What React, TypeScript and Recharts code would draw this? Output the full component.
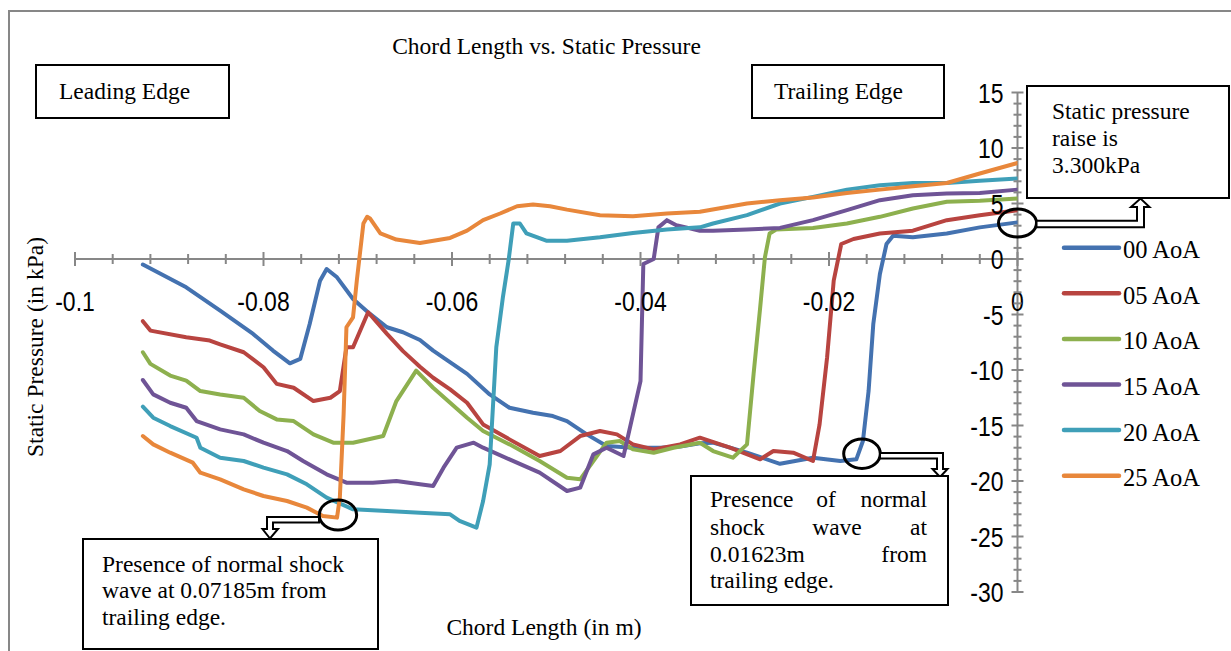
import React from "react";
import { LineChart, Line, XAxis, YAxis, ReferenceLine, ReferenceDot, Legend } from "recharts";

// chord position (m) vs static pressure (kPa)
const aoa00: [number, number][] = [
  [-0.0928, -0.5], [-0.0882, -2.55], [-0.0846, -4.65], [-0.0811, -6.75], [-0.079, -8.25], [-0.0772, -9.4],
  [-0.0761, -9.0], [-0.0751, -5.85], [-0.074, -1.95], [-0.0733, -0.9], [-0.0722, -1.65], [-0.0705, -3.6],
  [-0.0687, -4.95], [-0.0669, -6.15], [-0.0652, -6.6], [-0.0634, -7.3], [-0.062, -8.25], [-0.0584, -10.35],
  [-0.056, -12.2], [-0.0539, -13.4], [-0.0514, -13.85], [-0.0493, -14.15], [-0.0478, -14.6], [-0.0457, -15.8],
  [-0.0436, -16.85], [-0.0408, -17.0], [-0.0379, -17.0], [-0.0358, -16.9], [-0.0337, -16.6], [-0.0323, -16.55],
  [-0.0287, -17.45], [-0.0252, -18.45], [-0.0217, -17.9], [-0.0188, -18.2], [-0.0171, -18.05], [-0.0164, -16.4],
  [-0.0158, -11.9], [-0.0153, -5.85], [-0.0146, -1.35], [-0.0139, 1.35], [-0.0132, 2.1], [-0.0111, 1.95],
  [-0.0075, 2.3], [-0.004, 2.85], [0, 3.3],
];
const aoa05: [number, number][] = [
  [-0.0928, -5.6], [-0.092, -6.45], [-0.0882, -7.05], [-0.0857, -7.35], [-0.0846, -7.7], [-0.0821, -8.4],
  [-0.08, -9.75], [-0.0786, -11.25], [-0.0768, -11.6], [-0.0747, -12.8], [-0.0729, -12.5], [-0.0719, -11.9],
  [-0.0712, -7.95], [-0.0705, -7.95], [-0.0689, -4.8], [-0.0669, -6.75], [-0.0652, -8.3], [-0.0634, -9.7],
  [-0.062, -10.7], [-0.0602, -11.75], [-0.0584, -12.95], [-0.0567, -14.9], [-0.0539, -16.25], [-0.0507, -17.75],
  [-0.0485, -17.3], [-0.0464, -15.95], [-0.0443, -15.5], [-0.0425, -15.8], [-0.0408, -16.7], [-0.0386, -17.15],
  [-0.0358, -16.7], [-0.0337, -16.1], [-0.0305, -17.0], [-0.0273, -18.05], [-0.0259, -17.3], [-0.0238, -17.45],
  [-0.0217, -18.2], [-0.021, -14.9], [-0.0202, -8.85], [-0.0195, -1.95], [-0.0187, 1.35], [-0.0174, 1.8],
  [-0.0146, 2.3], [-0.0111, 2.55], [-0.0075, 3.5], [-0.004, 3.95], [0, 4.4],
];
const aoa10: [number, number][] = [
  [-0.0928, -8.4], [-0.092, -9.45], [-0.0899, -10.5], [-0.0882, -10.95], [-0.0867, -11.9], [-0.0846, -12.2],
  [-0.0821, -12.5], [-0.0804, -13.7], [-0.0786, -14.45], [-0.0768, -14.6], [-0.0747, -15.8], [-0.0726, -16.55],
  [-0.0705, -16.55], [-0.0673, -15.95], [-0.0659, -12.8], [-0.0638, -10.05], [-0.062, -11.6], [-0.0602, -12.95],
  [-0.0584, -14.3], [-0.0567, -15.5], [-0.0539, -16.7], [-0.0507, -18.2], [-0.0478, -19.7], [-0.0464, -19.85],
  [-0.045, -18.2], [-0.0436, -16.55], [-0.0422, -16.4], [-0.0408, -17.15], [-0.0386, -17.45], [-0.0365, -17.0],
  [-0.0337, -16.55], [-0.0323, -17.3], [-0.0302, -17.9], [-0.0287, -16.7], [-0.028, -10.35], [-0.0273, -4.35],
  [-0.0268, 0.15], [-0.0263, 2.3], [-0.0256, 2.65], [-0.0217, 2.8], [-0.0181, 3.2], [-0.0146, 3.8],
  [-0.0111, 4.55], [-0.0075, 5.15], [-0.004, 5.25], [0, 5.45],
];
const aoa15: [number, number][] = [
  [-0.0928, -10.9], [-0.0917, -12.2], [-0.0899, -12.95], [-0.0882, -13.4], [-0.0871, -14.6], [-0.0846, -15.35],
  [-0.0821, -15.8], [-0.08, -16.55], [-0.0775, -17.3], [-0.0758, -18.2], [-0.0733, -19.4], [-0.0712, -20.15],
  [-0.0684, -20.15], [-0.0659, -20.0], [-0.0634, -20.3], [-0.062, -20.45], [-0.0609, -18.8], [-0.0595, -17.0],
  [-0.0577, -16.55], [-0.0567, -17.0], [-0.0539, -18.05], [-0.0507, -19.25], [-0.0478, -20.9], [-0.0464, -20.6],
  [-0.045, -17.6], [-0.0436, -17.0], [-0.0418, -17.75], [-0.0408, -14.0], [-0.04, -11.0], [-0.0397, -0.45],
  [-0.0386, 0.0], [-0.0381, 2.85], [-0.0372, 3.5], [-0.0362, 3.05], [-0.0337, 2.55], [-0.0323, 2.55],
  [-0.0287, 2.65], [-0.0252, 2.8], [-0.0217, 3.5], [-0.0181, 4.4], [-0.0146, 5.3], [-0.0111, 5.75],
  [-0.0075, 5.9], [-0.004, 5.95], [0, 6.25],
];
const aoa20: [number, number][] = [
  [-0.0928, -13.3], [-0.0917, -14.3], [-0.0899, -15.05], [-0.0871, -16.1], [-0.0867, -17.0], [-0.0846, -17.9],
  [-0.0821, -18.2], [-0.08, -18.8], [-0.0775, -19.4], [-0.0754, -20.3], [-0.0733, -21.5], [-0.0705, -22.55],
  [-0.0669, -22.7], [-0.0634, -22.85], [-0.0602, -23.0], [-0.0592, -23.6], [-0.0574, -24.2], [-0.0567, -21.8],
  [-0.056, -18.5], [-0.0553, -7.95], [-0.0546, -3.45], [-0.054, -0.15], [-0.0535, 3.2], [-0.0528, 3.2],
  [-0.0521, 2.3], [-0.05, 1.65], [-0.0478, 1.65], [-0.0443, 1.95], [-0.0408, 2.35], [-0.0372, 2.65],
  [-0.0337, 2.85], [-0.0323, 3.2], [-0.0287, 3.95], [-0.0252, 5.0], [-0.0217, 5.6], [-0.0181, 6.25],
  [-0.0146, 6.65], [-0.0111, 6.85], [-0.0075, 6.85], [-0.004, 7.05], [0, 7.25],
];
const aoa25: [number, number][] = [
  [-0.0928, -15.95], [-0.0917, -16.7], [-0.0899, -17.45], [-0.0875, -18.35], [-0.0867, -19.25], [-0.0846, -19.85],
  [-0.0821, -20.75], [-0.08, -21.35], [-0.0775, -21.8], [-0.0754, -22.4], [-0.0737, -23.15], [-0.0722, -23.3],
  [-0.0719, -21.5], [-0.0715, -14.0], [-0.0712, -6.15], [-0.0705, -5.25], [-0.0701, -1.95], [-0.0694, 3.2],
  [-0.069, 3.8], [-0.0687, 3.65], [-0.0676, 2.3], [-0.0659, 1.75], [-0.0634, 1.45], [-0.0602, 1.9],
  [-0.0584, 2.55], [-0.0567, 3.5], [-0.0549, 4.1], [-0.0531, 4.75], [-0.0514, 4.9], [-0.0496, 4.75],
  [-0.0478, 4.45], [-0.0443, 3.95], [-0.0408, 3.85], [-0.0372, 4.1], [-0.0337, 4.25], [-0.0287, 5.0],
  [-0.0252, 5.3], [-0.0217, 5.55], [-0.0181, 5.95], [-0.0146, 6.25], [-0.0111, 6.55], [-0.0075, 6.85],
  [-0.004, 7.7], [0, 8.65],
];

const seriesNames = ["00 AoA", "05 AoA", "10 AoA", "15 AoA", "20 AoA", "25 AoA"];
const seriesColors = ["#4472b0", "#b84440", "#8db04e", "#6f5496", "#3f9fb8", "#e8873b"];
const seriesData = [aoa00, aoa05, aoa10, aoa15, aoa20, aoa25];

const xMajor = [-0.1, -0.08, -0.06, -0.04, -0.02, 0];
const xMajorLabels = ["-0.1", "-0.08", "-0.06", "-0.04", "-0.02", "0"];
const xMinor = [
  -0.096, -0.092, -0.088, -0.084, -0.076, -0.072, -0.068, -0.064, -0.056, -0.052, -0.048, -0.044,
  -0.036, -0.032, -0.028, -0.024, -0.016, -0.012, -0.008, -0.004,
];
const yMajor = [15, 10, 5, 0, -5, -10, -15, -20, -25, -30];
const yMinor = [
  14, 13, 12, 11, 9, 8, 7, 6, 4, 3, 2, 1, -1, -2, -3, -4, -6, -7, -8, -9, -11, -12, -13, -14,
  -16, -17, -18, -19, -21, -22, -23, -24, -26, -27, -28, -29,
];

// annotation ellipses, centred on the marked data points
const marks = [
  { x: -0.0721, y: -23.06, rx: 18.7, ry: 15 },
  { x: -0.0165, y: -17.54, rx: 18.3, ry: 14.7 },
  { x: 0, y: 3.24, rx: 19, ry: 14 },
];

const W = 1231;
const H = 651;
const AXIS = "#878787";
const SERIF = "'Liberation Serif', 'Times New Roman', serif";
const SANS = "'Liberation Sans', Arial, sans-serif";

const xTick = (major: boolean, label?: string) => (p: any) => (
  <g>
    <line x1={p.cx} x2={p.cx} y1={p.cy - (major ? 7 : 5)} y2={p.cy + (major ? 7 : 5)} stroke={AXIS} strokeWidth={2} />
    {label !== undefined && (
      <text transform={`translate(${p.cx},${p.cy + 52}) scale(0.82,1)`} textAnchor="middle" fontFamily={SANS} fontSize={28} fill="#000">
        {label}
      </text>
    )}
  </g>
);

const yTick = (major: boolean, label?: string) => (p: any) => (
  <g>
    <line x1={p.cx - (major ? 6 : 4)} x2={p.cx + (major ? 6 : 4)} y1={p.cy} y2={p.cy} stroke={AXIS} strokeWidth={2} />
    {label !== undefined && (
      <text transform={`translate(${p.cx - 14},${p.cy + 10}) scale(0.82,1)`} textAnchor="end" fontFamily={SANS} fontSize={28} fill="#000">
        {label}
      </text>
    )}
  </g>
);

const ring = (rx: number, ry: number) => (p: any) => (
  <ellipse cx={p.cx} cy={p.cy} rx={rx} ry={ry} fill="none" stroke="#000" strokeWidth={3} />
);

const renderLegend = (props: any) => (
  <svg width={171} height={280}>
    {(props.payload || []).map((e: any, i: number) => {
      const cy = 27.7 + i * 45.6;
      return (
        <g key={e.value}>
          <line x1={4} x2={59} y1={cy} y2={cy} stroke={e.color} strokeWidth={4.5} strokeLinecap="round" />
          <text x={63} y={cy + 10.5} fontFamily={SERIF} fontSize={24.5} fill="#000">
            {e.value}
          </text>
        </g>
      );
    })}
  </svg>
);

export default function App() {
  return (
    <div style={{ position: "absolute", left: 0, top: 0, width: W, height: H, overflow: "hidden", background: "#fff" }}>
      <div style={{ position: "absolute", left: 8, top: 10, width: W + 50, height: H + 50, borderTop: `2px solid ${AXIS}`, borderLeft: `2px solid ${AXIS}` }} />
      <div style={{ position: "absolute", left: 0, top: 0 }}>
        <LineChart width={W} height={H} margin={{ top: 92.5, right: 213.5, bottom: 59, left: 75 }}>
          <XAxis dataKey="x" type="number" domain={[-0.1, 0]} hide allowDataOverflow />
          <YAxis type="number" domain={[-30, 15]} hide allowDataOverflow />
          <ReferenceLine y={0} stroke={AXIS} strokeWidth={2} />
          <ReferenceLine x={0} stroke={AXIS} strokeWidth={2} />
          {xMinor.map((v) => (
            <ReferenceDot key={`xm${v}`} x={v} y={0} r={0} shape={xTick(false)} />
          ))}
          {xMajor.map((v, i) => (
            <ReferenceDot key={`xM${v}`} x={v} y={0} r={0} shape={xTick(true, xMajorLabels[i])} />
          ))}
          {yMinor.map((v) => (
            <ReferenceDot key={`ym${v}`} x={0} y={v} r={0} shape={yTick(false)} />
          ))}
          {yMajor.map((v) => (
            <ReferenceDot key={`yM${v}`} x={0} y={v} r={0} shape={yTick(true, String(v))} />
          ))}
          {seriesData.map((d, i) => (
            <Line
              key={seriesNames[i]}
              data={d.map(([x, p]) => ({ x, p }))}
              dataKey="p"
              name={seriesNames[i]}
              type="linear"
              stroke={seriesColors[i]}
              strokeWidth={4}
              strokeLinejoin="round"
              strokeLinecap="round"
              dot={false}
              activeDot={false}
              isAnimationActive={false}
            />
          ))}
          {marks.map((m, i) => (
            <ReferenceDot key={`mk${i}`} x={m.x} y={m.y} r={0} shape={ring(m.rx, m.ry)} />
          ))}
          <Legend
            layout="vertical"
            align="center"
            verticalAlign="middle"
            content={renderLegend}
            wrapperStyle={{ left: 1060, top: 220, width: 171, height: 280 }}
          />
        </LineChart>
      </div>
      <svg width={W} height={H} style={{ position: "absolute", left: 0, top: 0, pointerEvents: "none" }}>
        <g fontFamily={SERIF} fontSize={23.5} fill="#000">
          <text x={546.5} y={54} textAnchor="middle">Chord Length vs. Static Pressure</text>
          <text x={544} y={635} textAnchor="middle">Chord Length (in m)</text>
          <text transform="translate(42.5,347) rotate(-90)" textAnchor="middle">Static Pressure (in kPa)</text>
        </g>
        <g fill="#fff" stroke="#000" strokeWidth={2}>
          <polygon points="319,517 267,517 267,529 262.5,529 270,538.5 278,529 273,529 273,522.5 319,522.5" />
          <polygon points="880,453 943,453 943,469 947.5,469 940,477 932.5,469 937,469 937,458.5 880,458.5" />
          <polygon points="1036.5,220.7 1137,220.7 1137,207 1131,207 1140.5,198.5 1149.5,207 1144,207 1144,227.3 1036.5,227.3" />
        </g>
        <g fill="#fff" stroke="#000" strokeWidth={2}>
          <rect x={36} y={65} width={193} height={53} />
          <rect x={752} y={65} width={192} height={53} />
          <rect x={1027} y={86} width={202} height={112} />
          <rect x={83} y={539} width={295} height={110} />
          <rect x={691} y={476} width={257} height={129} />
        </g>
        <g fontFamily={SERIF} fontSize={23.5} fill="#000">
          <text x={59} y={99}>Leading Edge</text>
          <text x={774} y={99}>Trailing Edge</text>
          <text x={1052} y={118.5}>Static pressure</text>
          <text x={1052} y={146}>raise is</text>
          <text x={1052} y={173}>3.300kPa</text>
          <text x={102} y={571.7}>Presence of normal shock</text>
          <text x={102} y={598.3}>wave at 0.07185m from</text>
          <text x={102} y={625}>trailing edge.</text>
          <text x={710} y={507.3}>Presence</text>
          <text x={826} y={507.3} textAnchor="middle">of</text>
          <text x={927} y={507.3} textAnchor="end">normal</text>
          <text x={710} y={535}>shock</text>
          <text x={837} y={535} textAnchor="middle">wave</text>
          <text x={927} y={535} textAnchor="end">at</text>
          <text x={710} y={561.7}>0.01623m</text>
          <text x={927} y={561.7} textAnchor="end">from</text>
          <text x={710} y={588.3}>trailing edge.</text>
        </g>
      </svg>
    </div>
  );
}
